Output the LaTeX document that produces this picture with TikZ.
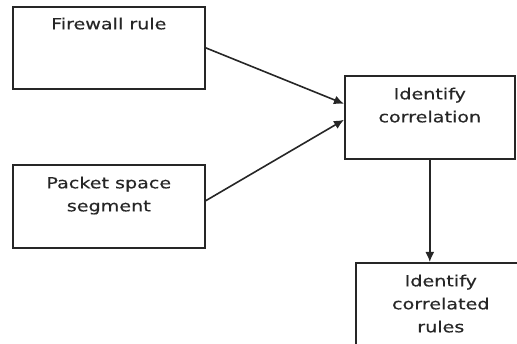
\documentclass[tikz,border=0pt]{standalone}
\usepackage{fontspec}
\usetikzlibrary{arrows.meta}
\newfontfamily\boxfont[FakeStretch=1.25,FakeBold=0.4]{DejaVu Sans}
\tikzset{
  box/.style={draw=black!85, line width=1.6pt, anchor=north west, inner sep=0pt},
  txt/.style={anchor=north, inner sep=0pt, align=center, text=black!85,
    font=\boxfont\fontsize{15.3}{23}\selectfont},
  conn/.style={draw=black!85, line width=1.6pt, -{Latex[length=10pt,width=9pt]}}
}
\begin{document}
\begin{tikzpicture}[x=1pt,y=-1pt]
\useasboundingbox (0,0) rectangle (517,344);
\clip (0,0) rectangle (517,344);
\node[box, minimum width=192pt, minimum height=82pt] (b1) at (12,6) {};
\node[box, minimum width=192pt, minimum height=83pt] (b2) at (12,164) {};
\node[box, minimum width=170pt, minimum height=83pt] (b3) at (344,75) {};
\node[box, minimum width=170pt, minimum height=84pt] (b4) at (355,262) {};
\node[txt] (t1) at ([yshift=-11.5pt]b1.north) {Firewall rule};
\node[txt] (t2) at ([yshift=-12.5pt]b2.north) {Packet space\\segment};
\node[txt] (t3) at ([yshift=-12.5pt]b3.north) {Identify\\correlation};
\node[txt] (t4) at ([yshift=-12.5pt]b4.north) {Identify\\correlated\\rules};
\draw[conn] (b1.east) -- ([yshift=13.5pt]b3.west);
\draw[conn] ([yshift=5.5pt]b2.east) -- ([yshift=-2.5pt]b3.west);
\draw[conn] (b3.south) -- (b3.south |- b4.north);
\end{tikzpicture}
\end{document}
